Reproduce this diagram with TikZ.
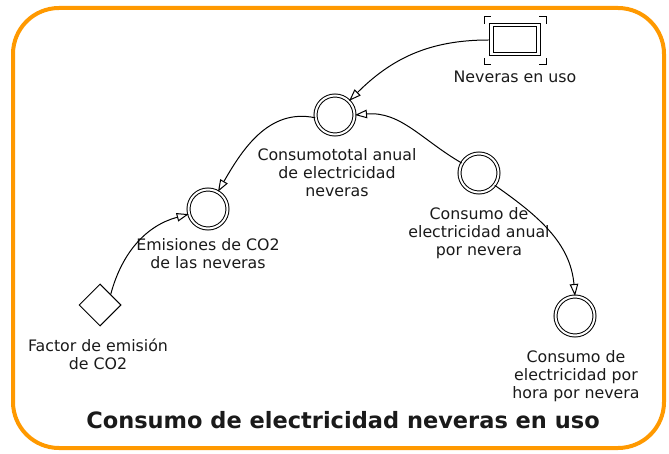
\documentclass[tikz,border=0pt]{standalone}
\usepackage{fontspec}
\setmainfont{DejaVu Sans}
\usetikzlibrary{arrows.meta,shapes.geometric}
\definecolor{frameorange}{HTML}{FF9900}
\definecolor{inkgray}{HTML}{1A1A1A}
\tikzset{
  x=1pt,y=-1pt,
  aux/.style={circle,draw,double,double distance=2pt,line width=1pt,minimum size=39pt,inner sep=0pt},
  cons/.style={diamond,draw,line width=1pt,minimum size=42pt,inner sep=0pt,shape aspect=1},
  lbl/.style={align=center,font=\fontsize{15.8}{18}\selectfont,inner sep=0pt,text=inkgray},
  link/.style={line width=1pt,-{Triangle[open,length=12pt,width=8.5pt]}},
  thin line/.style={line width=1pt},
}
\begin{document}
\begin{tikzpicture}
\useasboundingbox (0,0) rectangle (669,454);
\draw[frameorange,line width=4pt,rounded corners=46pt] (13,8) rectangle (664,448);
% stock
\node[draw,thin line,minimum width=51pt,minimum height=32pt,inner sep=0pt] (stock) at (514.5,40) {};
\draw[thin line] (493,27) rectangle (536,53);
\draw[thin line] (484,24) -- (484,17) -- (491,17);
\draw[thin line] (539,17) -- (546,17) -- (546,24);
\draw[thin line] (484,58) -- (484,65) -- (491,65);
\draw[thin line] (539,65) -- (546,65) -- (546,58);
\node[lbl] (stocklbl) at (515,77) {Neveras en uso};
% auxiliaries
\node[aux] (c1) at (335,115) {};
\node[lbl] (c1lbl) at (337,173) {Consumototal anual\\de electricidad\\neveras};
\node[aux] (c2) at (208,209) {};
\node[lbl] (c2lbl) at (208,254) {Emisiones de CO2\\de las neveras};
\node[aux] (c3) at (479,173) {};
\node[lbl] (c3lbl) at (479,233) {Consumo de\\electricidad anual\\por nevera};
\node[aux] (c4) at (575,316) {};
\node[lbl] (c4lbl) at (576,376) {Consumo de\\electricidad por\\hora por nevera};
\node[cons] (f) at (100,305) {};
\node[lbl] (flbl) at (98,354) {Factor de emisión\\de CO2};
\node[font=\bfseries\fontsize{22.5}{26}\selectfont,inner sep=0pt,text=inkgray] (title) at (343,420) {Consumo de electricidad neveras en uso};
% links
\draw[link] (stock.west) to[out=180,in=45] (c1.45);
\draw[link] (c3.150) to[out=150,in=5] (c1.east);
\draw[link] (c1.188) to[out=168,in=60] (c2.60);
\draw[link] (f.north east) to[out=75,in=195] (c2.195);
\draw[link] (c3.-38) to[out=-35,in=95] (c4.north);
\end{tikzpicture}
\end{document}
